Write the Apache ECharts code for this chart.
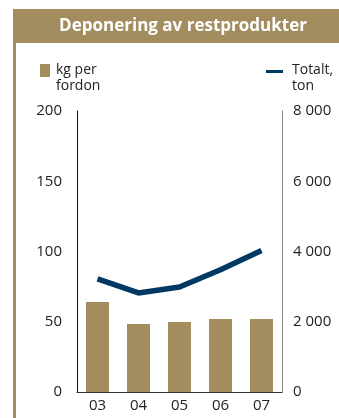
<!DOCTYPE html>
<html><head><meta charset="utf-8">
<script src="https://cdn.jsdelivr.net/npm/echarts@6/dist/echarts.min.js"></script>
<style>html,body{margin:0;padding:0;background:#fff}#c{width:339px;height:418px}</style>
</head><body><div id="c"></div>
<script>
const categories = ['03','04','05','06','07'];
const kgPerFordon = [64, 48.4, 49.8, 52, 52];
const totaltTon = [3220, 2820, 2990, 3480, 4030];
const leftTicks = [0, 50, 100, 150, 200];
const rightTicks = [0, 2000, 4000, 6000, 8000];
const titleText = 'Deponering av restprodukter';
const legendBar = ['kg per', 'fordon'];
const legendLine = ['Totalt,', 'ton'];

const gold = '#a38d5f';
const navy = '#003a63';
const font = '"Open Sans", "Noto Sans", sans-serif';

const chart = echarts.init(document.getElementById('c'), null, {renderer: 'canvas'});
const fmt = v => String(v).replace(/\B(?=(\d{3})+(?!\d))/g, ' ');
chart.setOption({
  animation: false,
  textStyle: {fontFamily: font},
  grid: {left: 77, right: 57, top: 111, bottom: 26},
  graphic: [
    {type: 'rect', shape: {x: 13, y: 9, width: 326, height: 34}, style: {fill: gold}},
    {type: 'rect', shape: {x: 13, y: 9, width: 3, height: 409}, style: {fill: gold}},
    {type: 'text', x: 183, y: 26, style: {text: titleText, fill: '#fff', font: 'bold 17px ' + font, textAlign: 'center', textVerticalAlign: 'middle'}},
    {type: 'rect', shape: {x: 40, y: 64, width: 10, height: 13}, style: {fill: gold}},
    {type: 'text', x: 56, y: 62, style: {text: legendBar.join('\n'), fill: '#222', font: '14px ' + font, lineHeight: 16}},
    {type: 'rect', shape: {x: 266, y: 70, width: 17, height: 3}, style: {fill: navy}},
    {type: 'text', x: 292, y: 62, style: {text: legendLine.join('\n'), fill: '#222', font: '14px ' + font, lineHeight: 16}}
  ],
  xAxis: {
    type: 'category', data: categories,
    axisLine: {lineStyle: {color: '#333', width: 1}},
    axisTick: {show: false},
    axisLabel: {color: '#222', fontSize: 15, margin: 6, fontFamily: font}
  },
  yAxis: [
    {type: 'value', min: leftTicks[0], max: leftTicks[leftTicks.length-1], interval: 50,
     axisLine: {show: true, lineStyle: {color: '#111'}}, axisTick: {show: false}, splitLine: {show: false},
     axisLabel: {color: '#222', fontSize: 15, margin: 15, fontFamily: font}},
    {type: 'value', min: rightTicks[0], max: rightTicks[rightTicks.length-1], interval: 2000, position: 'right',
     axisLine: {show: true, lineStyle: {color: '#888'}}, axisTick: {show: false}, splitLine: {show: false},
     axisLabel: {color: '#222', fontSize: 15, margin: 11, fontFamily: font, formatter: fmt}}
  ],
  series: [
    {name: 'kg per fordon', type: 'bar', data: kgPerFordon, yAxisIndex: 0, barWidth: 23, itemStyle: {color: gold}},
    {name: 'Totalt, ton', type: 'line', data: totaltTon, yAxisIndex: 1, symbol: 'none', lineStyle: {color: navy, width: 5.5}, z: 5}
  ]
});
</script></body></html>
